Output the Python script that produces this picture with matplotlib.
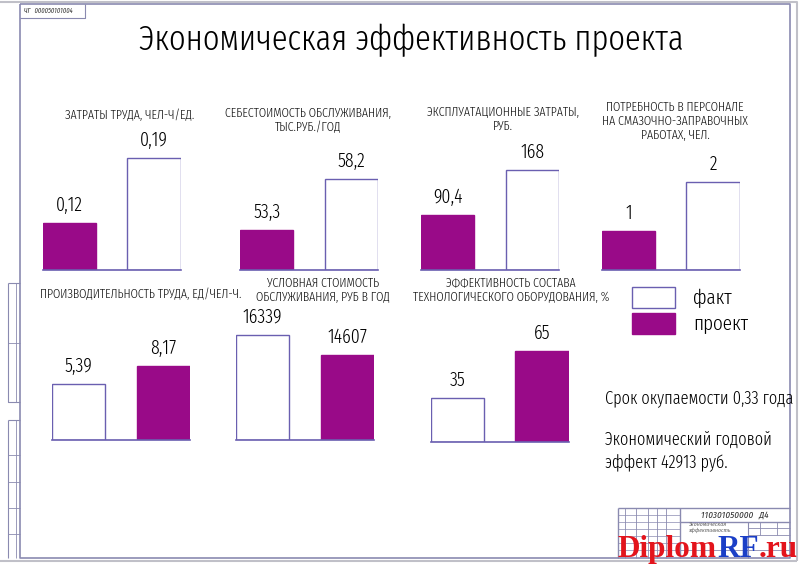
import matplotlib
matplotlib.use("Agg")
import matplotlib.pyplot as plt
from matplotlib import font_manager

# ---------------- data ----------------
titles = [
    "ЗАТРАТЫ ТРУДА, ЧЕЛ-Ч/ЕД.",
    "СЕБЕСТОИМОСТЬ ОБСЛУЖИВАНИЯ,\nТЫС.РУБ./ГОД",
    "ЭКСПЛУАТАЦИОННЫЕ ЗАТРАТЫ,\nРУБ.",
    "ПОТРЕБНОСТЬ В ПЕРСОНАЛЕ\nНА СМАЗОЧНО-ЗАПРАВОЧНЫХ\nРАБОТАХ, ЧЕЛ.",
    "ПРОИЗВОДИТЕЛЬНОСТЬ ТРУДА, ЕД/ЧЕЛ-Ч.",
    "УСЛОВНАЯ СТОИМОСТЬ\nОБСЛУЖИВАНИЯ, РУБ В ГОД",
    "ЭФФЕКТИВНОСТЬ СОСТАВА\nТЕХНОЛОГИЧЕСКОГО ОБОРУДОВАНИЯ, %",
]
# values in drawing order (left bar, right bar)
values = [
    [0.12, 0.19],
    [53.3, 58.2],
    [90.4, 168],
    [1, 2],
    [5.39, 8.17],
    [16339, 14607],
    [35, 65],
]
value_labels = [
    ["0,12", "0,19"],
    ["53,3", "58,2"],
    ["90,4", "168"],
    ["1", "2"],
    ["5,39", "8,17"],
    ["16339", "14607"],
    ["35", "65"],
]
# series of each bar
series = [
    ["проект", "факт"],
    ["проект", "факт"],
    ["проект", "факт"],
    ["проект", "факт"],
    ["факт", "проект"],
    ["факт", "проект"],
    ["факт", "проект"],
]
legend_labels = ["факт", "проект"]
main_title = "Экономическая эффективность проекта"
payback_text = "Срок окупаемости 0,33 года"
effect_text = "Экономический годовой\nэффект 42913 руб."
stamp_code = "110301050000   Д4"

# ---------------- layout / style ----------------
W, H = 800, 565
PURPLE = "#990a88"
EDGE = "#6a5fb0"
FRAME = "#8a8ab0"
LIGHT = 300

cands = ["Fira Sans Extra Condensed", "Roboto Condensed", "DejaVu Sans"]
avail = {f.name for f in font_manager.fontManager.ttflist}
FONT = [c for c in cands if c in avail] or ["DejaVu Sans"]
plt.rcParams["font.family"] = FONT

fig = plt.figure(figsize=(W / 100, H / 100), dpi=100)
fig.patch.set_facecolor("white")
ax0 = fig.add_axes([0, 0, 1, 1])
ax0.set_xlim(0, W)
ax0.set_ylim(H, 0)
ax0.axis("off")

# chart geometry in pixels: (left, baseline, ylim low, ylim high)
AX_H = 130
chart_geom = [
    (43, 270, 0.0694, 0.2094),
    (240, 270, 49.46, 61.95),
    (421, 270, -4.4, 219.7),
    (602, 270, 0.204, 2.857),
    (52, 440, -3.26, 16.83),
    (236, 440, 7246, 18501),
    (431, 442, 6.9, 89.86),
]
BAR_W = 0.63
UNIT_PX = 84.5
title_pos = [(130, 115), (308, 120), (503, 119), (675, 121),
             (141, 294), (323, 290), (511, 290)]

for i, (vals, labs, sers) in enumerate(zip(values, value_labels, series)):
    left, base, lo, hi = chart_geom[i]
    width_px = (1 + BAR_W) * UNIT_PX
    ax = fig.add_axes([left / W, (H - base) / H, width_px / W, AX_H / H])
    ax.set_xlim(-BAR_W / 2, 1 + BAR_W / 2)
    ax.set_ylim(lo, hi)
    ax.axis("off")
    cols = [PURPLE if s == "проект" else "white" for s in sers]
    ecs = [PURPLE if s == "проект" else EDGE for s in sers]
    heights = [v - lo for v in vals]
    bars = ax.bar([0, 1], heights, bottom=lo, width=BAR_W, color=cols,
                  edgecolor=ecs, linewidth=1.0)
    ax.axhline(lo, color=EDGE, lw=1.2, clip_on=False)
    for b, v, lab in zip(bars, vals, labs):
        ax.annotate(lab, (b.get_x() + b.get_width() / 2, v),
                    xytext=(0, 6), textcoords="offset points",
                    ha="center", va="bottom", fontsize=14, color="black",
                    fontweight=LIGHT)
    tx, ty = title_pos[i]
    ax0.text(tx, ty, titles[i], ha="center", va="center", fontsize=9.3,
             linespacing=1.15, color="#111111", fontweight=LIGHT)

# main title
ax0.text(411, 50, main_title, ha="center", va="baseline", fontsize=25.5,
         color="black", fontweight=LIGHT)

# legend
ax0.add_patch(plt.Rectangle((632, 287), 43, 21, facecolor="white",
                            edgecolor=EDGE, lw=1))
ax0.add_patch(plt.Rectangle((632, 313), 43, 21, facecolor=PURPLE,
                            edgecolor=PURPLE, lw=1))
ax0.text(693, 298, legend_labels[0], ha="left", va="center", fontsize=15,
         fontweight=LIGHT)
ax0.text(693, 324, legend_labels[1], ha="left", va="center", fontsize=15,
         fontweight=LIGHT)

# right texts
ax0.text(605, 398, payback_text, ha="left", va="center", fontsize=12.8,
         fontweight=LIGHT)
ax0.text(605, 452, effect_text, ha="left", va="center", fontsize=12.8,
         linespacing=1.35, fontweight=LIGHT)

# ---------------- drawing frame ----------------
def line(xs, ys, c=FRAME, lw=1.0):
    ax0.plot(xs, ys, color=c, lw=lw, solid_capstyle="butt")

# page edges
line([0, 797, 797], [1.5, 1.5, 561], c="#c0c0c8", lw=1.5)
line([0, 797], [561, 561], c="#c0c0c8", lw=1.5)
# inner frame
line([20, 790, 790, 20, 20], [4, 4, 558, 558, 4], lw=1.2)
# top-left small box
line([20, 85, 85], [18, 18, 4], lw=0.8)
ax0.text(24, 11, "ЧГ   000050101004", fontsize=5, va="center",
         ha="left", color="#333333", style="italic")
# left strip
line([8, 8, 20], [283, 402, 402], lw=0.8)
line([8, 20], [283, 283], lw=0.8)
line([16, 16], [283, 402], lw=0.6)
line([8, 20], [343, 343], lw=0.6)
line([8, 8], [420, 558], lw=0.8)
line([8, 20], [420, 420], lw=0.8)
line([16, 16], [420, 558], lw=0.6)
for yy in (455, 482, 508, 534):
    line([8, 20], [yy, yy], lw=0.6)

# title block (stamp)
line([618, 790], [508, 508], lw=1.0)
line([618, 618], [508, 558], lw=1.0)
for xx in (625, 636, 648, 657, 666):
    line([xx, xx], [508, 558], lw=0.6)
line([680, 680], [508, 558], lw=1.0)
for yy in (515, 522, 529, 536, 543, 550):
    line([618, 680], [yy, yy], lw=0.5)
line([680, 790], [522, 522], lw=1.0)
line([748, 748], [522, 558], lw=0.8)
line([760, 760], [522, 535], lw=0.6)
line([777, 777], [522, 535], lw=0.6)
line([748, 790], [528, 528], lw=0.6)
line([748, 790], [535, 535], lw=0.6)
line([680, 790], [550, 550], lw=0.6)
ax0.text(735, 515, stamp_code, fontsize=7, ha="center", va="center",
         style="italic", color="#333333")
ax0.text(688, 527, "Экономическая\nэффективность", fontsize=4.5, ha="left",
         va="center", style="italic", color="#666666", linespacing=1.1)

# watermark
WM_FONT = ["Liberation Serif", "DejaVu Serif"]
t1 = ax0.text(618, 557, "Diplom", fontsize=22.5, color="#e3141c",
              family=WM_FONT, ha="left", va="baseline", fontweight="bold")
t2 = ax0.annotate("RF", xy=(1, 0), xycoords=t1, fontsize=22.5,
                  color="#1b3fc7", family=WM_FONT, fontweight="bold",
                  ha="left", va="bottom")
ax0.annotate(".ru", xy=(1, 0), xycoords=t2, fontsize=22.5, color="#e3141c",
             family=WM_FONT, ha="left", va="bottom", fontweight="bold")

fig.savefig("out.png", dpi=100, facecolor="white")
